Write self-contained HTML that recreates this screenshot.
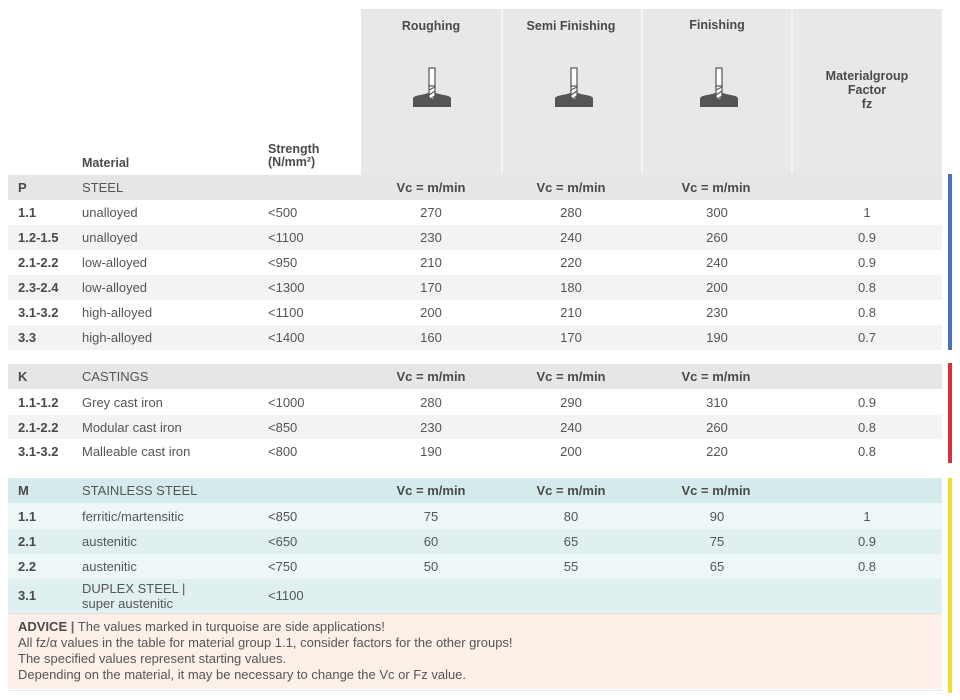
<!DOCTYPE html>
<html><head><meta charset="utf-8"><style>
*{margin:0;padding:0;box-sizing:border-box}
body{width:960px;height:700px;background:#fff;position:relative;overflow:hidden;font-family:"Liberation Sans",sans-serif;color:#555;font-size:13px}
.a{position:absolute}
.row{position:absolute;left:8px;width:934px}
.row span{position:absolute;top:0;white-space:nowrap}
.b{font-weight:bold;color:#4a4a4a}
.c{width:100px;text-align:center}
.hd{font-weight:bold;color:#4a4a4a;font-size:12.5px;text-align:center;width:140px}
</style></head><body>
<!-- header gray -->
<div class="a" style="left:361px;top:9px;width:581px;height:166px;background:#e8e8e9"></div>
<div class="a" style="left:501px;top:9px;width:2px;height:164px;background:#f4f4f4"></div>
<div class="a" style="left:641px;top:9px;width:2px;height:164px;background:#f4f4f4"></div>
<div class="a" style="left:791px;top:9px;width:2px;height:164px;background:#f4f4f4"></div>
<div class="a hd" style="left:361px;top:19px">Roughing</div>
<div class="a hd" style="left:501px;top:19px">Semi Finishing</div>
<div class="a hd" style="left:647px;top:18px">Finishing</div>
<div class="a hd" style="left:797px;top:69px;line-height:14px">Materialgroup<br>Factor<br>fz</div>
<div class="a b" style="left:82px;top:156px;font-size:12.5px">Material</div>
<div class="a b" style="left:268px;top:143px;font-size:12.5px;line-height:13px">Strength<br>(N/mm²)</div>
<svg class="a" style="left:0;top:0" width="960" height="180">
<defs><g id="ic">
<path d="M-19,107 L-19,98 Q-18,96 -12,95 Q-6,94 -4,93 L-3,93 Q0,101 3,93 L4,93 Q6,94 12,95 Q18,96 19,98 L19,107 Z" fill="#555"/>
<rect x="-3" y="68" width="6" height="19" fill="#fff" stroke="#555" stroke-width="1.2"/>
<path d="M-3,86 L-3,97 Q0,102 3,97 L3,86 Z" fill="#fff" stroke="#555" stroke-width="1.2"/>
<path d="M-3,90 L3,87 M-3,95 L3,91 M-2,99 L3,96" stroke="#555" stroke-width="1.2"/>
</g></defs>
<use href="#ic" x="432" y="0"/>
<use href="#ic" x="574" y="0"/>
<use href="#ic" x="719" y="0"/>
</svg>

<!-- P group -->
<div class="row" style="top:175px;height:25px;line-height:25px;background:#e6e6e7">
<span class="b" style="left:10px">P</span><span style="left:74px">STEEL</span>
<span class="b c" style="left:373px">Vc = m/min</span><span class="b c" style="left:513px">Vc = m/min</span><span class="b c" style="left:658px">Vc = m/min</span></div>
<div class="row" style="top:200px;height:25px;line-height:25px;background:#fff"><span class="b" style="left:10px">1.1</span><span style="left:74px">unalloyed</span><span style="left:260px">&lt;500</span><span class="c" style="left:373px">270</span><span class="c" style="left:513px">280</span><span class="c" style="left:659px">300</span><span class="c" style="left:809px">1</span></div>
<div class="row" style="top:225px;height:25px;line-height:25px;background:#f3f3f3"><span class="b" style="left:10px">1.2-1.5</span><span style="left:74px">unalloyed</span><span style="left:260px">&lt;1100</span><span class="c" style="left:373px">230</span><span class="c" style="left:513px">240</span><span class="c" style="left:659px">260</span><span class="c" style="left:809px">0.9</span></div>
<div class="row" style="top:250px;height:25px;line-height:25px;background:#fff"><span class="b" style="left:10px">2.1-2.2</span><span style="left:74px">low-alloyed</span><span style="left:260px">&lt;950</span><span class="c" style="left:373px">210</span><span class="c" style="left:513px">220</span><span class="c" style="left:659px">240</span><span class="c" style="left:809px">0.9</span></div>
<div class="row" style="top:275px;height:25px;line-height:25px;background:#f3f3f3"><span class="b" style="left:10px">2.3-2.4</span><span style="left:74px">low-alloyed</span><span style="left:260px">&lt;1300</span><span class="c" style="left:373px">170</span><span class="c" style="left:513px">180</span><span class="c" style="left:659px">200</span><span class="c" style="left:809px">0.8</span></div>
<div class="row" style="top:300px;height:25px;line-height:25px;background:#fff"><span class="b" style="left:10px">3.1-3.2</span><span style="left:74px">high-alloyed</span><span style="left:260px">&lt;1100</span><span class="c" style="left:373px">200</span><span class="c" style="left:513px">210</span><span class="c" style="left:659px">230</span><span class="c" style="left:809px">0.8</span></div>
<div class="row" style="top:325px;height:25px;line-height:25px;background:#f3f3f3"><span class="b" style="left:10px">3.3</span><span style="left:74px">high-alloyed</span><span style="left:260px">&lt;1400</span><span class="c" style="left:373px">160</span><span class="c" style="left:513px">170</span><span class="c" style="left:659px">190</span><span class="c" style="left:809px">0.7</span></div>

<!-- K group -->
<div class="row" style="top:364px;height:25px;line-height:26px;background:#e6e6e7">
<span class="b" style="left:10px">K</span><span style="left:74px">CASTINGS</span>
<span class="b c" style="left:373px">Vc = m/min</span><span class="b c" style="left:513px">Vc = m/min</span><span class="b c" style="left:658px">Vc = m/min</span></div>
<div class="row" style="top:389px;height:26px;line-height:27px;background:#fff"><span class="b" style="left:10px">1.1-1.2</span><span style="left:74px">Grey cast iron</span><span style="left:260px">&lt;1000</span><span class="c" style="left:373px">280</span><span class="c" style="left:513px">290</span><span class="c" style="left:659px">310</span><span class="c" style="left:809px">0.9</span></div>
<div class="row" style="top:415px;height:24px;line-height:25px;background:#f3f3f3"><span class="b" style="left:10px">2.1-2.2</span><span style="left:74px">Modular cast iron</span><span style="left:260px">&lt;850</span><span class="c" style="left:373px">230</span><span class="c" style="left:513px">240</span><span class="c" style="left:659px">260</span><span class="c" style="left:809px">0.8</span></div>
<div class="row" style="top:439px;height:24px;line-height:25px;background:#fff"><span class="b" style="left:10px">3.1-3.2</span><span style="left:74px">Malleable cast iron</span><span style="left:260px">&lt;800</span><span class="c" style="left:373px">190</span><span class="c" style="left:513px">200</span><span class="c" style="left:659px">220</span><span class="c" style="left:809px">0.8</span></div>

<!-- M group -->
<div class="row" style="top:478px;height:25px;line-height:26px;background:#d5ebeb">
<span class="b" style="left:10px">M</span><span style="left:74px">STAINLESS STEEL</span>
<span class="b c" style="left:373px">Vc = m/min</span><span class="b c" style="left:513px">Vc = m/min</span><span class="b c" style="left:658px">Vc = m/min</span></div>
<div class="row" style="top:503px;height:26px;line-height:27px;background:#eef7f7"><span class="b" style="left:10px">1.1</span><span style="left:74px">ferritic/martensitic</span><span style="left:260px">&lt;850</span><span class="c" style="left:373px">75</span><span class="c" style="left:513px">80</span><span class="c" style="left:659px">90</span><span class="c" style="left:809px">1</span></div>
<div class="row" style="top:529px;height:25px;line-height:25px;background:#e0f0f0"><span class="b" style="left:10px">2.1</span><span style="left:74px">austenitic</span><span style="left:260px">&lt;650</span><span class="c" style="left:373px">60</span><span class="c" style="left:513px">65</span><span class="c" style="left:659px">75</span><span class="c" style="left:809px">0.9</span></div>
<div class="row" style="top:554px;height:25px;line-height:25px;background:#eef7f7"><span class="b" style="left:10px">2.2</span><span style="left:74px">austenitic</span><span style="left:260px">&lt;750</span><span class="c" style="left:373px">50</span><span class="c" style="left:513px">55</span><span class="c" style="left:659px">65</span><span class="c" style="left:809px">0.8</span></div>
<div class="row" style="top:579px;height:34px;line-height:34px;background:#e0f0f0"><span class="b" style="left:10px">3.1</span><span style="left:74px;top:2px;line-height:15px">DUPLEX STEEL |<br>super austenitic</span><span style="left:260px">&lt;1100</span></div>

<!-- advice -->
<div class="a" style="left:8px;top:613px;width:934px;height:76px;background:#fdf0e8;border-top:1px solid #f5d8cc;padding:5px 0 0 10px;line-height:16px;font-size:13px;color:#555">
<b style="color:#4a4a4a">ADVICE</b>&nbsp;<b style="color:#666">|</b> The values marked in turquoise are side applications!<br>
All fz/α values in the table for material group 1.1, consider factors for the other groups!<br>
The specified values represent starting values.<br>
Depending on the material, it may be necessary to change the Vc or Fz value.
</div>
<div class="a" style="left:8px;top:690px;width:934px;height:1px;background:#e6e6e6"></div>

<!-- colored side bars -->
<div class="a" style="left:948px;top:174px;width:4px;height:176px;background:#4a72b8"></div>
<div class="a" style="left:948px;top:363px;width:4px;height:100px;background:#d9303d"></div>
<div class="a" style="left:948px;top:478px;width:4px;height:215px;background:#f2dc2c"></div>
</body></html>
